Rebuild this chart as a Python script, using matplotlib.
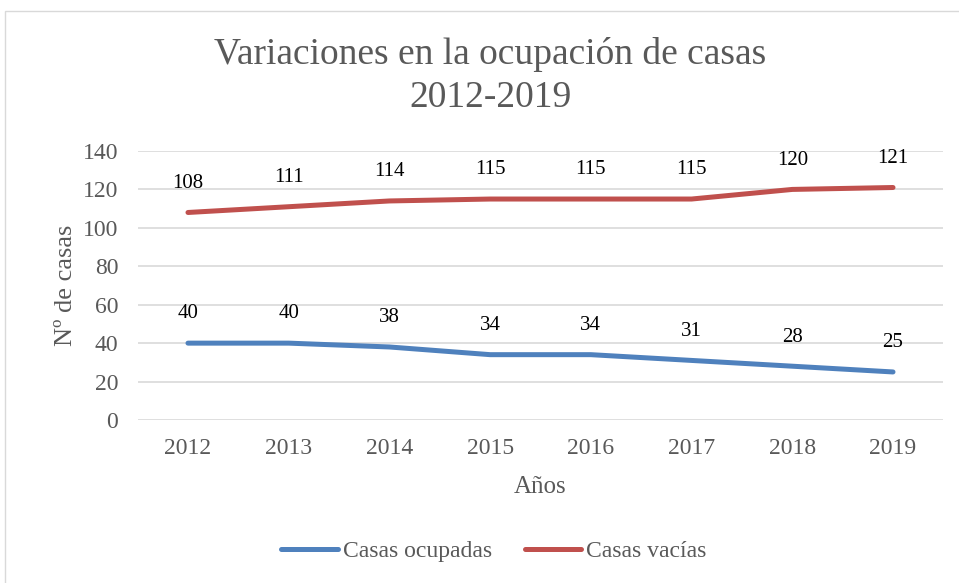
import matplotlib
matplotlib.use('Agg')
import matplotlib.pyplot as plt
from matplotlib.patches import Rectangle

plt.rcParams['font.family'] = ['Liberation Serif', 'DejaVu Serif']

# Data
years = ['2012', '2013', '2014', '2015', '2016', '2017', '2018', '2019']
ocupadas = [40, 40, 38, 34, 34, 31, 28, 25]
vacias = [108, 111, 114, 115, 115, 115, 120, 121]
y_ticks = [0, 20, 40, 60, 80, 100, 120, 140]

text_gray = '#595959'
blue = '#4F81BD'
red = '#C0504D'
grid_gray = '#D9D9D9'

fig = plt.figure(figsize=(9.59, 5.83), dpi=100)
fig.patch.set_facecolor('white')

# chart border
fig.add_artist(Rectangle((5 / 959, -0.05), 1.0, 1 - 11 / 583 + 0.05,
                         transform=fig.transFigure, fill=False,
                         edgecolor='#D9D9D9', linewidth=1))

ax = fig.add_axes([0.1435, 0.2796, 0.8402, 0.4614])
x = list(range(len(years)))

ax.plot(x, ocupadas, color=blue, linewidth=3.6, solid_capstyle='round',
        label='Casas ocupadas', zorder=3)
ax.plot(x, vacias, color=red, linewidth=3.6, solid_capstyle='round',
        label='Casas vacías', zorder=3)

for xi, v in zip(x, ocupadas):
    ax.annotate(f'{v}', (xi, v), xytext=(0, 21), textcoords='offset points',
                ha='center', va='center', fontsize=15, color='black')
for xi, v in zip(x, vacias):
    ax.annotate(f'{v}', (xi, v), xytext=(0, 21), textcoords='offset points',
                ha='center', va='center', fontsize=15, color='black')

ax.set_xlim(-0.5, len(years) - 0.5)
ax.set_ylim(0, 140)
ax.set_yticks(y_ticks)
ax.set_xticks(x)
ax.set_xticklabels(years)
ax.tick_params(axis='both', length=0, labelsize=17, colors=text_gray)
ax.tick_params(axis='x', pad=13)
ax.tick_params(axis='y', pad=14)
ax.grid(axis='y', color=grid_gray, linewidth=1.2)
ax.set_axisbelow(True)
for s in ax.spines.values():
    s.set_visible(False)

ax.set_xlabel('Años', fontsize=18, color=text_gray, labelpad=12)
ax.set_ylabel('Nº de casas', fontsize=19, color=text_gray, labelpad=4)

fig.text(0.511, 1 - 76 / 583, 'Variaciones en la ocupación de casas\n2012-2019',
         ha='center', va='center', fontsize=27, color=text_gray, linespacing=1.33)

leg = fig.legend(loc='center', bbox_to_anchor=(0.515, 1 - 551 / 583), ncol=2,
                 frameon=False, fontsize=17, handlelength=2.4, handletextpad=0.2,
                 columnspacing=1.4)
for t in leg.get_texts():
    t.set_color(text_gray)

fig.savefig('out.png', dpi=100, facecolor='white')
